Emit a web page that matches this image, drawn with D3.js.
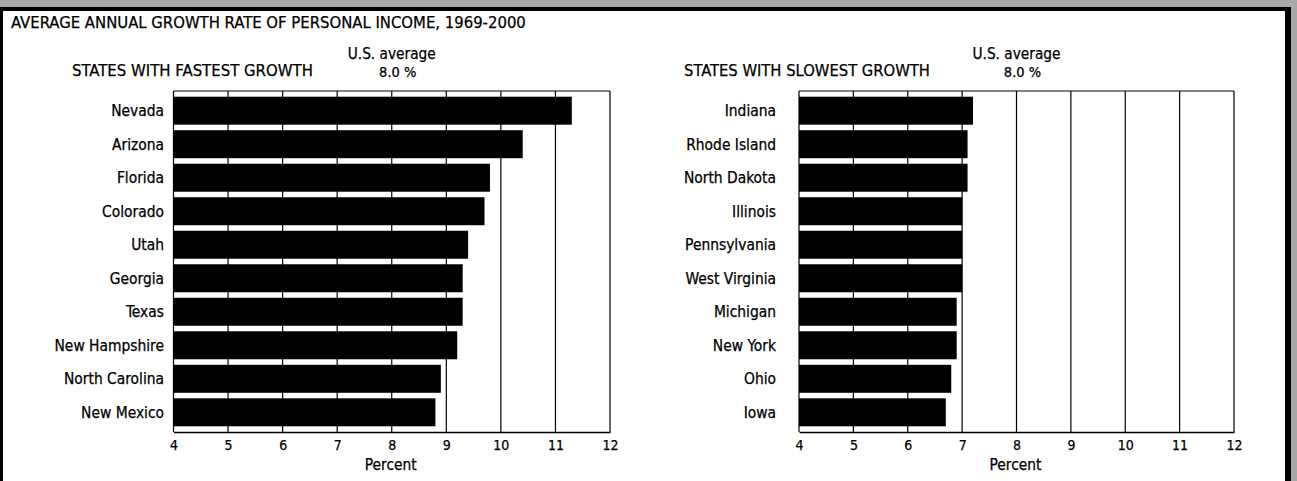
<!DOCTYPE html>
<html>
<head>
<meta charset="utf-8">
<script src="https://cdn.jsdelivr.net/npm/d3@7"></script>
<style>
  html, body { margin: 0; padding: 0; background: #fff; }
  svg { display: block; }
  text { fill: #000; stroke: #000; stroke-width: 0.25px; }
</style>
</head>
<body>
<svg id="chart" width="1297" height="481"></svg>
<script>
// ---- data ----
const chartTitle = "AVERAGE ANNUAL GROWTH RATE OF PERSONAL INCOME, 1969-2000";
const fastTitle = "STATES WITH FASTEST GROWTH";
const slowTitle = "STATES WITH SLOWEST GROWTH";
const fastStates = ["Nevada", "Arizona", "Florida", "Colorado", "Utah", "Georgia", "Texas", "New Hampshire", "North Carolina", "New Mexico"];
const fastValues = [11.3, 10.4, 9.8, 9.7, 9.4, 9.3, 9.3, 9.2, 8.9, 8.8];
const slowStates = ["Indiana", "Rhode Island", "North Dakota", "Illinois", "Pennsylvania", "West Virginia", "Michigan", "New York", "Ohio", "Iowa"];
const slowValues = [7.2, 7.1, 7.1, 7.0, 7.0, 7.0, 6.9, 6.9, 6.8, 6.7];
const tickValues = [4, 5, 6, 7, 8, 9, 10, 11, 12];
const usAverage = 8.0;
const axisTitle = "Percent";

// ---- drawing ----
const svg = d3.select("#chart");
const W = 1297, H = 481;
const condFont = "'DejaVu Sans Condensed', 'Liberation Sans Narrow', 'Liberation Sans', Arial, sans-serif";

// fit a text element to a target width by adjusting its font size
function fit(sel, target) {
  const node = sel.node();
  const fs = parseFloat(sel.style("font-size"));
  const w = node.getComputedTextLength();
  if (w > 0) sel.style("font-size", (fs * target / w).toFixed(2) + "px");
  return sel;
}

// scanned background strips & frame
svg.append("rect").attr("x", 0).attr("y", 0).attr("width", W).attr("height", H).attr("fill", "#a9a9a9");
svg.append("rect").attr("x", 0).attr("y", 7).attr("width", 1291).attr("height", H).attr("fill", "#000");
svg.append("rect").attr("x", 3).attr("y", 11).attr("width", 1282).attr("height", H).attr("fill", "#fff");

fit(svg.append("text")
  .attr("x", 11).attr("y", 28)
  .style("font-family", condFont).style("font-size", "15px")
  .text(chartTitle), 515);

function panel(states, values, title, x0, x1, titleX, titleW, labelRight) {
  const x = d3.scaleLinear().domain([4, 12]).range([x0, x1]);
  const top = 91, bottom = 432;
  const y = d3.scaleBand().domain(states).range([top, bottom]).paddingInner(0.165).paddingOuter(0.17);
  const g = svg.append("g");

  // gridlines
  g.selectAll("line.grid").data(tickValues).join("line")
    .attr("class", "grid")
    .attr("x1", d => x(d)).attr("x2", d => x(d))
    .attr("y1", top).attr("y2", bottom)
    .attr("stroke", "#000").attr("stroke-width", 1.2);
  // frame top
  g.append("line").attr("x1", x0).attr("x2", x1).attr("y1", top).attr("y2", top)
    .attr("stroke", "#000").attr("stroke-width", 1.2);

  // bars
  g.selectAll("rect.bar").data(values).join("rect")
    .attr("class", "bar")
    .attr("x", x(4))
    .attr("y", (d, i) => y(states[i]))
    .attr("width", d => x(d) - x(4))
    .attr("height", y.bandwidth())
    .attr("fill", "#000");

  // category labels
  g.selectAll("text.cat").data(states).join("text")
    .attr("class", "cat")
    .attr("x", labelRight)
    .attr("y", d => y(d) + y.bandwidth() / 2)
    .attr("dy", "0.36em")
    .attr("text-anchor", "end")
    .style("font-family", condFont).style("font-size", "15.4px")
    .text(d => d);

  // x axis
  const axis = d3.axisBottom(x).tickValues(tickValues).tickSize(0).tickPadding(8).tickFormat(d3.format("d"));
  const ag = g.append("g").attr("transform", `translate(0,${bottom})`).call(axis);
  ag.select(".domain").attr("stroke", "#000").attr("stroke-width", 1.6);
  ag.selectAll("text").style("font-family", condFont).style("font-size", "14px").attr("fill", "#000");

  fit(g.append("text")
    .attr("x", x(8) - 1).attr("y", 470)
    .attr("text-anchor", "middle")
    .style("font-family", condFont).style("font-size", "15px")
    .text(axisTitle), 52);

  // panel title
  fit(g.append("text")
    .attr("x", titleX).attr("y", 76)
    .style("font-family", condFont).style("font-size", "16px")
    .text(title), titleW);

  // U.S. average annotation
  fit(g.append("text")
    .attr("x", x(usAverage)).attr("y", 59)
    .attr("text-anchor", "middle")
    .style("font-family", condFont).style("font-size", "15px")
    .text("U.S. average"), 88);
  g.append("text")
    .attr("x", x(usAverage) + 6).attr("y", 77)
    .attr("text-anchor", "middle")
    .style("font-family", condFont).style("font-size", "14.5px")
    .text(d3.format(".1f")(usAverage) + " %");
}

panel(fastStates, fastValues, fastTitle, 173.5, 610, 72, 241, 164);
panel(slowStates, slowValues, slowTitle, 799, 1234, 684, 246, 776);
</script>
</body>
</html>
